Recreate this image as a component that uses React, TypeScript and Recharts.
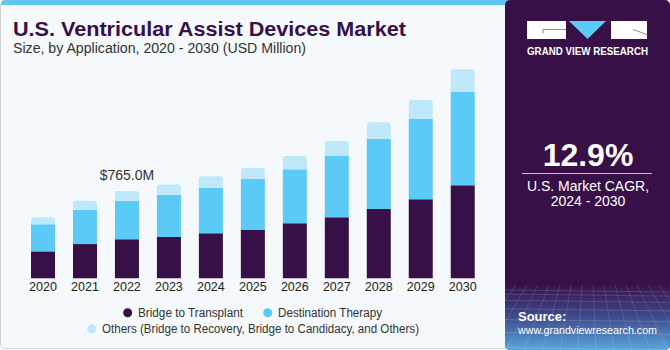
import React from 'react';
import { BarChart, Bar, XAxis, YAxis, Legend, LabelList } from 'recharts';

const years = ['2020', '2021', '2022', '2023', '2024', '2025', '2026', '2027', '2028', '2029', '2030'];
const bridgeToTransplant = [236, 300, 342, 362, 394, 423, 482, 534, 607, 692, 815];
const destinationTherapy = [237, 301, 338, 371, 400, 447, 473, 537, 616, 706, 820];
const others = [61, 79, 85, 88, 100, 96, 117, 131, 144, 164, 196];
const totalLabels = ['', '', '$765.0M', '', '', '', '', '', '', '', ''];

const seriesNames = [
  'Bridge to Transplant',
  'Destination Therapy',
  'Others (Bridge to Recovery, Bridge to Candidacy, and Others)',
];
const colors = ['#371048', '#5ccaf6', '#bfe9fb'];

const data = years.map((y, i) => ({
  year: y,
  bt: bridgeToTransplant[i],
  dt: destinationTherapy[i],
  ot: others[i],
  label: totalLabels[i],
}));

const FONT = '"Liberation Sans", Arial, sans-serif';

const renderLegend = () => (
  <svg width={505} height={40} style={{ display: 'block' }}>
    <circle cx={127.7} cy={8.7} r={4.5} fill={colors[0]} />
    <text x={138} y={13} fontSize={12.5} fill="#333" fontFamily={FONT} textLength={105} lengthAdjust="spacingAndGlyphs">{seriesNames[0]}</text>
    <circle cx={267.7} cy={8.7} r={4.5} fill={colors[1]} />
    <text x={278} y={13} fontSize={12.5} fill="#333" fontFamily={FONT} textLength={104} lengthAdjust="spacingAndGlyphs">{seriesNames[1]}</text>
    <circle cx={91.7} cy={25} r={4.5} fill={colors[2]} />
    <text x={102} y={29.3} fontSize={12.5} fill="#333" fontFamily={FONT} textLength={317} lengthAdjust="spacingAndGlyphs">{seriesNames[2]}</text>
  </svg>
);

const renderTopLabel = (props: any) => {
  const { x, y, width, value } = props;
  if (!value) return null;
  return (
    <text x={x + width / 2} y={y - 11} textAnchor="middle" fontSize={14} fill="#333" fontFamily={FONT}>
      {value}
    </text>
  );
};

export default function App() {
  return (
    <div style={{ position: 'absolute', left: 0, top: 0, width: 670, height: 350, background: '#ffffff', overflow: 'hidden', fontFamily: FONT }}>
      {/* left card */}
      <div style={{ position: 'absolute', left: 0, top: 0, width: 510, height: 349, background: '#f5f9fc', border: '1px solid #d2d4d6', borderRadius: 5, boxSizing: 'border-box' }} />
      <div style={{ position: 'absolute', left: 1, top: 0, width: 508, height: 5, background: '#5ec6f1', borderTopLeftRadius: 4 }} />
      {/* right panel */}
      <svg width={670} height={350} style={{ position: 'absolute', left: 0, top: 0 }}>
        <defs>
          <linearGradient id="pg" x1="0" y1="0" x2="0" y2="1">
            <stop offset="0" stopColor="#371048" />
            <stop offset="0.5" stopColor="#3f4a8a" />
            <stop offset="1" stopColor="#5aa6dc" />
          </linearGradient>
          <clipPath id="pc">
            <rect x={505} y={0} width={165} height={350} rx={5} />
          </clipPath>
        </defs>
        <g clipPath="url(#pc)">
          <rect x={500} y={0} width={170} height={350} fill="#371048" />
          <rect x={500} y={283} width={170} height={67} fill="url(#pg)" />
          {[0, 1, 2, 3, 4, 5, 6, 7].map((k) => (
            <line key={'h' + k} x1={505} x2={670} y1={290 + k * k * 1.1 + k * 3} y2={292 + k * k * 1.1 + k * 3} stroke="#ffffff" strokeOpacity={0.18} strokeWidth={0.8} />
          ))}
          {Array.from({ length: 16 }).map((_, k) => (
            <line key={'v' + k} x1={505 + k * 11} x2={505 + (k - 7.5) * 18 + 82} y1={285} y2={350} stroke="#ffffff" strokeOpacity={0.15} strokeWidth={0.8} />
          ))}
        </g>
      </svg>

      <div style={{ position: 'absolute', left: 0, top: 0 }}>
        <BarChart width={505} height={350} data={data} margin={{ top: 50, right: 21.3, left: 22, bottom: 41.7 }} barSize={24}>
          <XAxis dataKey="year" axisLine={false} tickLine={false} tickSize={0} tickMargin={4} height={30} interval={0}
            tick={{ fontSize: 12.5, fill: '#222', fontFamily: FONT }} />
          <YAxis hide domain={[0, 2000]} />
          <Legend verticalAlign="middle" layout="horizontal" content={renderLegend}
            wrapperStyle={{ left: 0, top: 304, width: 505, height: 40 }} />
          <Bar dataKey="bt" stackId="a" fill={colors[0]} name={seriesNames[0]} isAnimationActive={false} />
          <Bar dataKey="dt" stackId="a" fill={colors[1]} name={seriesNames[1]} isAnimationActive={false} />
          <Bar dataKey="ot" stackId="a" fill={colors[2]} name={seriesNames[2]} radius={[3, 3, 0, 0]} isAnimationActive={false}>
            <LabelList dataKey="label" content={renderTopLabel} />
          </Bar>
        </BarChart>
      </div>

      {/* header + panel texts */}
      <svg width={670} height={350} style={{ position: 'absolute', left: 0, top: 0, pointerEvents: 'none' }}>
        <text x={13} y={36} fontSize={20} fontWeight="bold" fill="#371048" fontFamily={FONT} textLength={393} lengthAdjust="spacingAndGlyphs">U.S. Ventricular Assist Devices Market</text>
        <text x={13} y={53} fontSize={14} fill="#333" fontFamily={FONT} textLength={293} lengthAdjust="spacingAndGlyphs">Size, by Application, 2020 - 2030 (USD Million)</text>

        {/* logo */}
        <rect x={527} y={21} width={39} height={18} fill="#ffffff" />
        <path d="M543,33.5 L543,29.5 L566,29.5" stroke="#7a6a8a" strokeWidth={0.8} fill="none" />
        <polygon points="569,21 606,21 587.5,39" fill="#5ccaf6" />
        <rect x={611} y={21} width={36} height={18} fill="#ffffff" />
        <path d="M633,29.5 L647,34.5" stroke="#7a6a8a" strokeWidth={0.8} fill="none" />
        <text x={527} y={54.5} fontSize={10} fontWeight="bold" fill="#ffffff" fontFamily={FONT} textLength={121} lengthAdjust="spacingAndGlyphs">GRAND VIEW RESEARCH</text>

        <text x={588} y={166} textAnchor="middle" fontSize={32} fontWeight="bold" fill="#ffffff" fontFamily={FONT}>12.9%</text>
        <line x1={522} x2={652} y1={173.5} y2={173.5} stroke="#c9c2d0" strokeWidth={1} />
        <text x={588} y={190.5} textAnchor="middle" fontSize={14} fill="#ffffff" fontFamily={FONT}>U.S. Market CAGR,</text>
        <text x={588} y={206} textAnchor="middle" fontSize={14} fill="#ffffff" fontFamily={FONT}>2024 - 2030</text>

        <text x={518} y={320.5} fontSize={13} fontWeight="bold" fill="#ffffff" fontFamily={FONT}>Source:</text>
        <text x={518} y={334} fontSize={11.5} fill="#ffffff" fontFamily={FONT} textLength={139} lengthAdjust="spacingAndGlyphs">www.grandviewresearch.com</text>
      </svg>
    </div>
  );
}
